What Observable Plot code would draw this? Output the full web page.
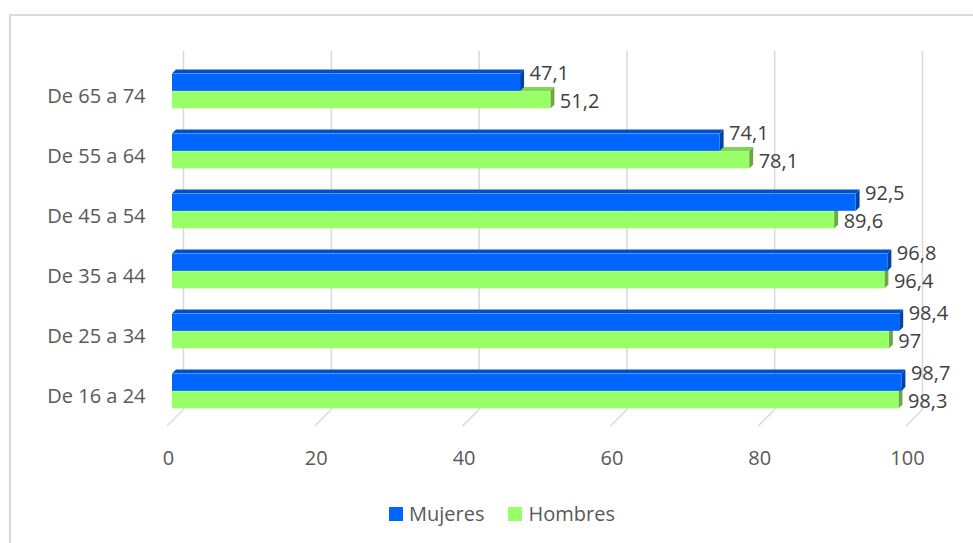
<!DOCTYPE html>
<html>
<head>
<meta charset="utf-8">
<script src="https://cdn.jsdelivr.net/npm/d3@7"></script>
<script src="https://cdn.jsdelivr.net/npm/@observablehq/plot@0.6"></script>
<style>
  html, body { margin: 0; padding: 0; background: #fff; overflow: hidden; width: 973px; height: 543px; }
  #frame { position: absolute; left: 9px; top: 14px; width: 1200px; height: 800px;
           border-left: 2px solid #d9d9d9; border-top: 2px solid #d9d9d9; box-sizing: border-box; }
  #chart { position: absolute; left: 0; top: 0; }
  #legend { position: absolute; left: 389px; top: 500px; display: flex; align-items: center;
            font-family: "Open Sans", sans-serif; font-size: 20px; color: #595959; }
  .item { display: flex; align-items: center; margin-right: 24px; }
  .sw { width: 14px; height: 14px; margin-right: 6px; }
</style>
</head>
<body>
<div id="frame"></div>
<div id="chart"></div>
<div id="legend"></div>
<script>
// ---- data ----
const categories = ["De 65 a 74", "De 55 a 64", "De 45 a 54", "De 35 a 44", "De 25 a 34", "De 16 a 24"];
const mujeres = [47.1, 74.1, 92.5, 96.8, 98.4, 98.7];
const hombres = [51.2, 78.1, 89.6, 96.4, 97, 98.3];
const seriesNames = ["Mujeres", "Hombres"];
const xTicks = [0, 20, 40, 60, 80, 100];

// ---- styles ----
const colors = {
  Mujeres: {front: "#0066ff", top: "#0050cc", side: "#0044aa"},
  Hombres: {front: "#99ff66", top: "#7fd653", side: "#6aa842"}
};
const FACE = 17.5;   // front face height per series (px)
const D = 4;         // bar depth (px)

const rows = categories.flatMap((c, i) => [
  {cat: c, serie: "Mujeres", value: mujeres[i]},
  {cat: c, serie: "Hombres", value: hombres[i]}
]);
const fmt = v => String(v).replace(".", ",");

const W = 973, H = 490;
const mT = 59.8, mB = 67.8;
const bandHalf = (H - mT - mB) / categories.length / 2;

function faces(serie) {
  return (index, scales, values, dim) => {
    const x = scales.x, y = scales.y;
    const bw = y.bandwidth ? y.bandwidth() : bandHalf * 2;
    const g = d3.create("svg:g");
    rows.filter(r => r.serie === serie).forEach(r => {
      const c = y(r.cat) + bw / 2;
      const top = serie === "Mujeres" ? c - FACE : c;
      const bot = serie === "Mujeres" ? c : c + FACE;
      const x0 = x(0), x1 = x(r.value);
      g.append("path").attr("d", `M${x0},${top}L${x0 + D},${top - D}L${x1 + D},${top - D}L${x1},${top}Z`)
        .attr("fill", colors[serie].top);
      g.append("path").attr("d", `M${x1},${top}L${x1 + D},${top - D}L${x1 + D},${bot - D}L${x1},${bot}Z`)
        .attr("fill", colors[serie].side);
    });
    return g.node();
  };
}

function floor(index, scales, values, dim) {
  const x = scales.x;
  const yb = dim.height - dim.marginBottom;
  const g = d3.create("svg:g").attr("stroke", "#d9d9d9").attr("stroke-width", 1.5).attr("fill", "none");
  xTicks.forEach(t => {
    g.append("path").attr("d", `M${x(t) + 11},${yb - 12.2}L${x(t) - 5},${yb + 3.8}`);
  });
  return g.node();
}

const chart = Plot.plot({
  width: W,
  height: H,
  marginLeft: 172,
  marginRight: 62,
  marginTop: mT,
  marginBottom: mB,
  style: {fontFamily: "Open Sans, sans-serif", fontSize: "20px", color: "#595959", background: "transparent", overflow: "visible"},
  x: {domain: [0, 100]},
  y: {domain: categories, padding: 0},
  marks: [
    Plot.ruleX(xTicks, {x: d => d, dx: 11, insetTop: -8.8, insetBottom: 12.2, stroke: "#d9d9d9", strokeWidth: 1.5}),
    floor,
    Plot.axisX({ticks: xTicks, tickSize: 0, tickPadding: 28, dx: -4, label: null}),
    Plot.axisY({tickSize: 0, tickPadding: 27, dy: 5, label: null}),
    faces("Hombres"),
    Plot.barX(rows.filter(r => r.serie === "Hombres"), {x: "value", y: "cat", fill: colors.Hombres.front,
      insetTop: bandHalf, insetBottom: bandHalf - FACE}),
    faces("Mujeres"),
    Plot.barX(rows.filter(r => r.serie === "Mujeres"), {x: "value", y: "cat", fill: colors.Mujeres.front,
      insetTop: bandHalf - FACE, insetBottom: bandHalf}),
    Plot.text(rows.filter(r => r.serie === "Mujeres"), {x: "value", y: "cat", text: d => fmt(d.value),
      textAnchor: "start", dx: 9, dy: -18, fill: "#404040", fontSize: 20}),
    Plot.text(rows.filter(r => r.serie === "Hombres"), {x: "value", y: "cat", text: d => fmt(d.value),
      textAnchor: "start", dx: 9, dy: 10, fill: "#404040", fontSize: 20})
  ]
});
document.getElementById("chart").appendChild(chart);

const legend = document.getElementById("legend");
seriesNames.forEach(s => {
  const it = document.createElement("div");
  it.className = "item";
  const sw = document.createElement("div");
  sw.className = "sw";
  sw.style.background = colors[s].front;
  const tx = document.createElement("span");
  tx.textContent = s;
  it.appendChild(sw); it.appendChild(tx);
  legend.appendChild(it);
});
</script>
</body>
</html>
